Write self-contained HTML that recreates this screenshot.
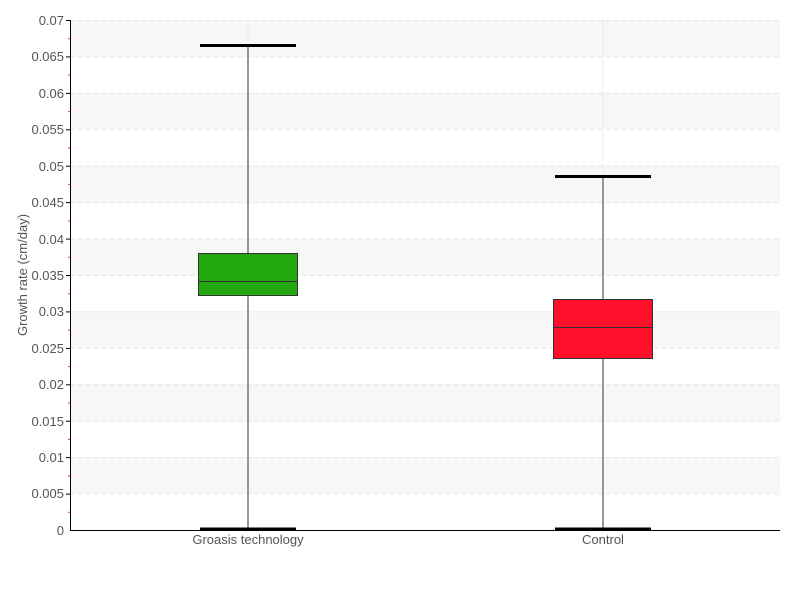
<!DOCTYPE html>
<html><head><style>body{margin:0;background:#fff}svg{display:block}text{font-family:"Liberation Sans",sans-serif;fill:#555;font-size:13px}</style></head><body>
<svg width="800" height="600" xmlns="http://www.w3.org/2000/svg">
<g fill="#f7f7f7">
<rect x="70" y="20" width="710" height="36.4"/>
<rect x="70" y="92.9" width="710" height="36.4"/>
<rect x="70" y="165.7" width="710" height="36.4"/>
<rect x="70" y="238.6" width="710" height="36.4"/>
<rect x="70" y="311.4" width="710" height="36.4"/>
<rect x="70" y="384.3" width="710" height="36.4"/>
<rect x="70" y="457.1" width="710" height="36.4"/>
</g>
<g stroke="#e6e6e6" stroke-dasharray="5,3" stroke-width="1">
<line x1="70" x2="780" y1="20.5" y2="20.5"/><line x1="70" x2="780" y1="56.9" y2="56.9"/><line x1="70" x2="780" y1="93.4" y2="93.4"/><line x1="70" x2="780" y1="129.8" y2="129.8"/><line x1="70" x2="780" y1="166.2" y2="166.2"/><line x1="70" x2="780" y1="202.6" y2="202.6"/><line x1="70" x2="780" y1="239.1" y2="239.1"/><line x1="70" x2="780" y1="275.5" y2="275.5"/><line x1="70" x2="780" y1="311.9" y2="311.9"/><line x1="70" x2="780" y1="348.4" y2="348.4"/><line x1="70" x2="780" y1="384.8" y2="384.8"/><line x1="70" x2="780" y1="421.2" y2="421.2"/><line x1="70" x2="780" y1="457.6" y2="457.6"/><line x1="70" x2="780" y1="494.1" y2="494.1"/>
<line x1="248" x2="248" y1="20" y2="530"/><line x1="603" x2="603" y1="20" y2="530"/>
</g>
<g stroke="#777" stroke-width="1.5"><line x1="248" x2="248" y1="45" y2="529"/><line x1="603" x2="603" y1="176" y2="529"/></g>
<g stroke="#000" stroke-width="3">
<line x1="200" x2="296" y1="45.5" y2="45.5"/><line x1="200" x2="296" y1="529" y2="529"/>
<line x1="555" x2="651" y1="176.5" y2="176.5"/><line x1="555" x2="651" y1="529" y2="529"/>
</g>
<rect x="198.5" y="253.5" width="99" height="42" fill="#22a80c" stroke="#333"/>
<line x1="198" x2="298" y1="281.5" y2="281.5" stroke="#333"/>
<rect x="553.5" y="299.5" width="99" height="59" fill="#ff0f2a" stroke="#333"/>
<line x1="553" x2="653" y1="327.5" y2="327.5" stroke="#333"/>
<g stroke="#000"><line x1="70.5" x2="70.5" y1="20" y2="530"/><line x1="70" x2="780" y1="530.5" y2="530.5"/></g>
<g stroke="#000">
<line x1="66" x2="70" y1="20.5" y2="20.5"/><line x1="66" x2="70" y1="56.9" y2="56.9"/><line x1="66" x2="70" y1="93.4" y2="93.4"/><line x1="66" x2="70" y1="129.8" y2="129.8"/><line x1="66" x2="70" y1="166.2" y2="166.2"/><line x1="66" x2="70" y1="202.6" y2="202.6"/><line x1="66" x2="70" y1="239.1" y2="239.1"/><line x1="66" x2="70" y1="275.5" y2="275.5"/><line x1="66" x2="70" y1="311.9" y2="311.9"/><line x1="66" x2="70" y1="348.4" y2="348.4"/><line x1="66" x2="70" y1="384.8" y2="384.8"/><line x1="66" x2="70" y1="421.2" y2="421.2"/><line x1="66" x2="70" y1="457.6" y2="457.6"/><line x1="66" x2="70" y1="494.1" y2="494.1"/>
</g>
<g stroke="#e33"><line x1="68" x2="70" y1="38.7" y2="38.7"/><line x1="68" x2="70" y1="75.1" y2="75.1"/><line x1="68" x2="70" y1="111.6" y2="111.6"/><line x1="68" x2="70" y1="148" y2="148"/><line x1="68" x2="70" y1="184.4" y2="184.4"/><line x1="68" x2="70" y1="220.9" y2="220.9"/><line x1="68" x2="70" y1="257.3" y2="257.3"/><line x1="68" x2="70" y1="293.7" y2="293.7"/><line x1="68" x2="70" y1="330.1" y2="330.1"/><line x1="68" x2="70" y1="366.6" y2="366.6"/><line x1="68" x2="70" y1="403" y2="403"/><line x1="68" x2="70" y1="439.4" y2="439.4"/><line x1="68" x2="70" y1="475.9" y2="475.9"/><line x1="68" x2="70" y1="512.3" y2="512.3"/></g>
<g text-anchor="end">
<text x="64" y="25">0.07</text><text x="64" y="61">0.065</text><text x="64" y="98">0.06</text><text x="64" y="134">0.055</text><text x="64" y="171">0.05</text><text x="64" y="207">0.045</text><text x="64" y="244">0.04</text><text x="64" y="280">0.035</text><text x="64" y="316">0.03</text><text x="64" y="353">0.025</text><text x="64" y="389">0.02</text><text x="64" y="426">0.015</text><text x="64" y="462">0.01</text><text x="64" y="498">0.005</text><text x="64" y="535">0</text>
</g>
<text x="248" y="544" text-anchor="middle">Groasis technology</text>
<text x="603" y="544" text-anchor="middle">Control</text>
<text transform="translate(27,275) rotate(-90)" text-anchor="middle" font-size="12">Growth rate (cm/day)</text>
</svg>
</body></html>
